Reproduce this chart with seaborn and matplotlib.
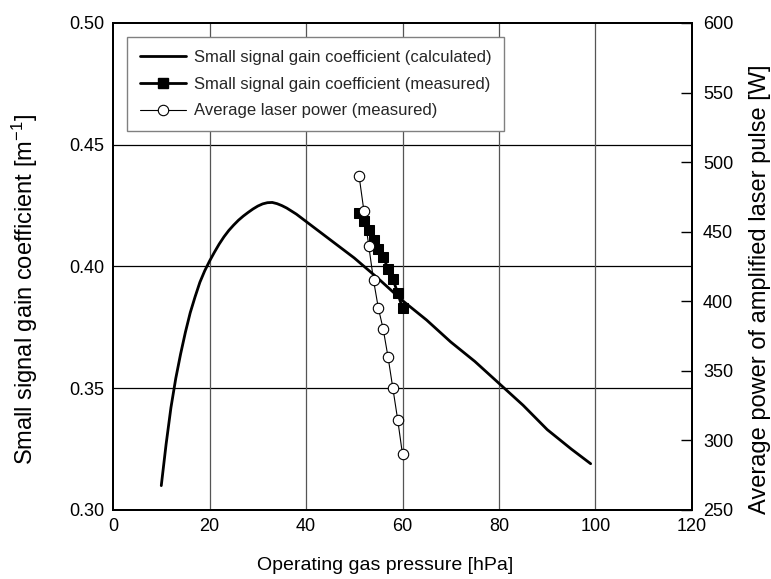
import matplotlib
matplotlib.use("Agg")
import matplotlib.pyplot as plt
import seaborn as sns
import pandas as pd
from matplotlib.lines import Line2D

# Calculated small signal gain coefficient vs. operating gas pressure
calc_pressure = [10, 11, 12, 13, 14, 15, 16, 17, 18, 19, 20, 21, 22, 23, 24, 25,
                 26, 27, 28, 29, 30, 31, 32, 33, 34, 35, 36, 38, 40, 45, 50, 55,
                 60, 65, 70, 75, 80, 85, 90, 95, 99]
calc_gain = [0.310, 0.327, 0.342, 0.354, 0.364, 0.373, 0.381, 0.3875, 0.3935,
             0.3982, 0.4022, 0.4058, 0.4092, 0.4122, 0.4148, 0.4170, 0.4190,
             0.4207, 0.4222, 0.4236, 0.4248, 0.4257, 0.4262, 0.4263, 0.4258,
             0.4250, 0.4240, 0.4215, 0.4185, 0.411, 0.4035, 0.395, 0.386,
             0.378, 0.369, 0.361, 0.352, 0.343, 0.333, 0.325, 0.319]

# Measured small signal gain coefficient
meas_pressure = [51, 52, 53, 54, 55, 56, 57, 58, 59, 60]
meas_gain = [0.422, 0.4188, 0.4151, 0.4110, 0.4073, 0.4039, 0.3991, 0.3949, 0.3891, 0.3829]

# Measured average laser power
power_pressure = [51, 52, 53, 54, 55, 56, 57, 58, 59, 60]
power_watts = [490, 465, 440, 415, 395, 380, 360, 337.5, 315, 290]

x_ticks = [0, 20, 40, 60, 80, 100, 120]
gain_ticks = [0.30, 0.35, 0.40, 0.45, 0.50]
power_ticks = [250, 300, 350, 400, 450, 500, 550, 600]

sns.set_theme(style="white")
plt.rcParams["font.family"] = ["Liberation Sans", "DejaVu Sans"]
plt.rcParams["mathtext.default"] = "regular"

fig = plt.figure(figsize=(7.71, 5.79), dpi=100)
ax = fig.add_axes([0.1466, 0.1192, 0.8975 - 0.1466, 0.9603 - 0.1192])
ax2 = ax.twinx()

df_calc = pd.DataFrame({"p": calc_pressure, "g": calc_gain})
df_meas = pd.DataFrame({"p": meas_pressure, "g": meas_gain})
df_pow = pd.DataFrame({"p": power_pressure, "w": power_watts})

sns.lineplot(data=df_calc, x="p", y="g", ax=ax, color="black", lw=2.0,
             sort=False, zorder=3)
sns.lineplot(data=df_meas, x="p", y="g", ax=ax, color="black", lw=2.0,
             marker="s", markersize=7, markeredgecolor="black",
             markerfacecolor="black", sort=False, zorder=4)
sns.lineplot(data=df_pow, x="p", y="w", ax=ax2, color="black", lw=0.8,
             marker="o", markersize=7.5, markeredgecolor="black",
             markeredgewidth=0.8, markerfacecolor="white", sort=False, zorder=5)

ax.set_xlim(0, 120)
ax.set_ylim(0.30, 0.50)
ax2.set_ylim(250, 600)
ax.set_xticks(x_ticks)
ax.set_xticklabels([str(t) for t in x_ticks])
ax.set_yticks(gain_ticks)
ax.set_yticklabels([f"{t:.2f}" for t in gain_ticks])
ax2.set_yticks(power_ticks)
ax2.set_yticklabels([str(t) for t in power_ticks])

# grid: black horizontals, dark grey verticals
for t in gain_ticks[1:-1]:
    ax.axhline(t, color="black", lw=0.9, zorder=1)
for t in x_ticks[1:-1]:
    ax.axvline(t, color="#555555", lw=0.9, zorder=1)

ax.tick_params(axis="both", which="both", length=0, labelsize=13, pad=6,
               colors="black")
ax2.tick_params(axis="y", direction="in", length=8, width=1, labelsize=13,
                pad=8, colors="black")

for a in (ax, ax2):
    for s in a.spines.values():
        s.set_color("black")
        s.set_linewidth(1.4)

# axis titles, centred on the figure
ax.set_xlabel("Operating gas pressure [hPa]", fontsize=14, color="black")
ax.xaxis.set_label_coords(0.4706, -0.113)
ax.xaxis.label.set_verticalalignment("center")

ax.set_ylabel("Small signal gain coefficient [m$^{-1}$]", fontsize=17,
              color="black")
ax.yaxis.set_label_coords(-0.152, 0.4528)
ax.yaxis.label.set_verticalalignment("center")

ax2.set_ylabel("Average power of amplified laser pulse [W]", fontsize=17,
               color="black")
ax2.yaxis.set_label_coords(1.1174, 0.4528)
ax2.yaxis.label.set_verticalalignment("center")

handles = [
    Line2D([], [], color="black", lw=2.0),
    Line2D([], [], color="black", lw=2.0, marker="s", markersize=7),
    Line2D([], [], color="black", lw=0.8, marker="o", markersize=7.5,
           markerfacecolor="white", markeredgewidth=0.8),
]
labels = ["Small signal gain coefficient (calculated)",
          "Small signal gain coefficient (measured)",
          "Average laser power (measured)"]
leg = ax2.legend(handles, labels, loc="upper left",
                 bbox_to_anchor=(0.024, 0.971), borderaxespad=0,
                 fontsize=12, frameon=True, fancybox=False, framealpha=1,
                 edgecolor="#808080", handlelength=2.76, handletextpad=0.48,
                 labelspacing=0.71, borderpad=0.76)
leg.get_frame().set_linewidth(1.0)
leg.set_zorder(10)

fig.savefig("out.png", dpi=100, facecolor="white")
